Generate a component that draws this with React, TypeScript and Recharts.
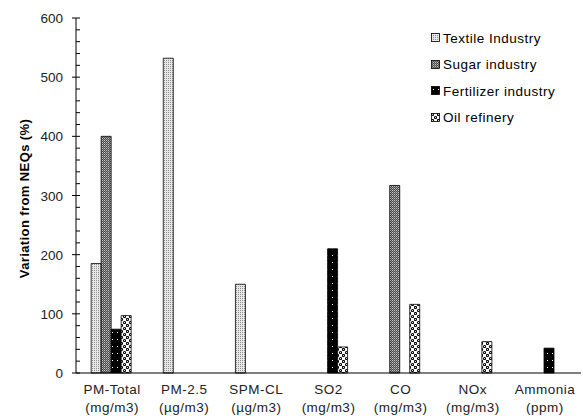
import { BarChart, Bar, XAxis, YAxis, Legend } from "recharts";

const categories = ["PM-Total", "PM-2.5", "SPM-CL", "SO2", "CO", "NOx", "Ammonia"];
const units = ["(mg/m3)", "(µg/m3)", "(µg/m3)", "(mg/m3)", "(mg/m3)", "(mg/m3)", "(ppm)"];

const textile = [185, 532, 150, null, null, null, null];
const sugar = [400, null, null, null, 317, null, null];
const fertilizer = [74, null, null, 210, null, null, 42];
const oil = [97, null, null, 44, 116, 53, null];

const yTicks = Array.from({ length: 31 }, (_, i) => i * 20);

const seriesNames = ["Textile Industry", "Sugar industry", "Fertilizer industry", "Oil refinery"];
const patternIds = ["patTextile", "patSugar", "patFert", "patOil"];

const data = categories.map((c, i) => ({
  name: c,
  textile: textile[i],
  sugar: sugar[i],
  fertilizer: fertilizer[i],
  oil: oil[i],
}));

const FONT = "'Liberation Sans', Arial, sans-serif";

function Patterns() {
  return (
    <defs>
      <pattern id="patTextile" width="2" height="2" patternUnits="userSpaceOnUse">
        <rect width="2" height="2" fill="#e8e8e8" />
        <rect width="1" height="1" fill="#8c8c8c" />
      </pattern>
      <pattern id="patSugar" width="2" height="2" patternUnits="userSpaceOnUse">
        <rect width="2" height="2" fill="#4a4a4a" />
        <rect width="1" height="1" fill="#c8c8c8" />
        <rect x="1" y="1" width="1" height="1" fill="#8a8a8a" />
      </pattern>
      <pattern id="patFert" width="5" height="7" patternUnits="userSpaceOnUse">
        <rect width="5" height="7" fill="#000" />
        <rect x="2" y="3" width="1" height="1" fill="#fff" />
      </pattern>
      <pattern id="patOil" width="6" height="6" patternUnits="userSpaceOnUse">
        <rect width="6" height="6" fill="#fff" />
        <circle cx="1.5" cy="1.5" r="1.6" fill="#000" />
        <circle cx="4.5" cy="4.5" r="1.6" fill="#000" />
        <circle cx="1.5" cy="1.5" r="0.6" fill="#fff" />
        <circle cx="4.5" cy="4.5" r="0.6" fill="#fff" />
      </pattern>
    </defs>
  );
}

function YTick(props: any) {
  const { x, y, payload } = props;
  const major = payload.value % 100 === 0;
  return (
    <g>
      <line x1={major ? x - 4 : x} x2={x + 4} y1={y} y2={y} stroke="#000" strokeWidth={1} />
      {major && (
        <text x={x - 13} y={y} dy={5} textAnchor="end" fontSize={13.5} fontFamily={FONT} fill="#222">
          {payload.value}
        </text>
      )}
    </g>
  );
}

function XTick(props: any) {
  const { x, y, payload, index } = props;
  return (
    <text x={x} y={y} textAnchor="middle" fontSize={13.5} letterSpacing={0.5} fontFamily={FONT} fill="#222">
      <tspan x={x} dy={13}>{payload.value}</tspan>
      <tspan x={x} dy={18}>{units[index]}</tspan>
    </text>
  );
}

function YLabel(props: any) {
  const { viewBox } = props;
  const cx = viewBox.x + 24;
  const cy = viewBox.y + viewBox.height / 2 + 3;
  return (
    <text
      x={cx}
      y={cy}
      transform={`rotate(-90, ${cx}, ${cy})`}
      textAnchor="middle"
      dominantBaseline="central"
      fontSize={13}
      fontWeight="bold"
      letterSpacing={0.4}
      fontFamily={FONT}
      fill="#000"
    >
      Variation from NEQs  (%)
    </text>
  );
}

function LegendBox() {
  return (
    <div style={{ fontFamily: FONT, fontSize: 13.5, letterSpacing: 0.5, color: "#000" }}>
      {seriesNames.map((n, i) => (
        <div key={n} style={{ display: "flex", alignItems: "center", height: 26.5 }}>
          <svg width={10} height={10} style={{ marginRight: 2 }}>
            <Patterns />
            <rect x={0.5} y={0.5} width={8} height={8} fill={`url(#${patternIds[i]})`} stroke="#000" strokeWidth={0.8} />
          </svg>
          <span>{n}</span>
        </div>
      ))}
    </div>
  );
}

export default function App() {
  return (
    <div style={{ position: "absolute", left: 0, top: 0, background: "#fff" }}>
      <BarChart
        width={583}
        height={416}
        data={data}
        margin={{ top: 18, right: 2, bottom: 5, left: 0 }}
        barCategoryGap="21%"
        barGap={0}
      >
        <Patterns />
        <XAxis
          dataKey="name"
          height={38}
          tickLine={false}
          axisLine={{ stroke: "#000" }}
          tick={<XTick />}
          interval={0}
        />
        <YAxis
          width={76}
          domain={[0, 600]}
          ticks={yTicks}
          interval={0}
          tickSize={0}
          tickMargin={0}
          axisLine={{ stroke: "#000" }}
          tickLine={false}
          tick={<YTick />}
          label={<YLabel />}
        />
        <Legend
          layout="vertical"
          align="center"
          verticalAlign="middle"
          content={() => <LegendBox />}
          wrapperStyle={{ position: "absolute", top: 25, left: 431, width: 152 }}
        />
        <Bar dataKey="textile" name={seriesNames[0]} fill="url(#patTextile)" stroke="#000" strokeWidth={0.8} isAnimationActive={false} />
        <Bar dataKey="sugar" name={seriesNames[1]} fill="url(#patSugar)" stroke="#000" strokeWidth={0.8} isAnimationActive={false} />
        <Bar dataKey="fertilizer" name={seriesNames[2]} fill="url(#patFert)" stroke="#000" strokeWidth={0.8} isAnimationActive={false} />
        <Bar dataKey="oil" name={seriesNames[3]} fill="url(#patOil)" stroke="#000" strokeWidth={0.8} isAnimationActive={false} />
      </BarChart>
    </div>
  );
}
